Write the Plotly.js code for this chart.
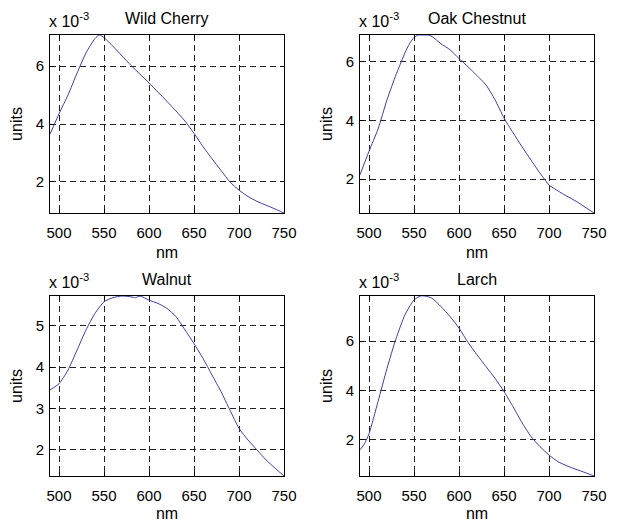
<!DOCTYPE html>
<html>
<head>
<meta charset="utf-8">
<script src="https://cdn.plot.ly/plotly-3.0.1.min.js"></script>
<style>html,body{margin:0;padding:0;background:#fff;}#chart{width:621px;height:522px;}</style>
</head>
<body>
<div id="chart"></div>
<script>
// Wavelength samples (nm) and spectra (units x 10^-3)
const cherryNm = [490,500,510,520,530,540,545,550,560,570,580,590,600,610,620,630,640,650,660,670,680,690,700,710,720,730,740,750];
const cherryVal = [3.65,4.35,5.0,5.75,6.45,6.95,7.07,6.98,6.68,6.35,6.02,5.72,5.42,5.1,4.78,4.45,4.1,3.68,3.22,2.8,2.4,2.0,1.72,1.5,1.33,1.2,1.07,0.93];

const oakNm = [490,500,510,520,530,536,540,545,550,555,560,565,570,580,590,600,610,620,630,640,650,660,670,680,690,695,700,710,720,730,740,750];
const oakVal = [2.15,2.95,3.7,4.7,5.55,6.0,6.3,6.6,6.82,6.9,6.9,6.9,6.85,6.6,6.4,6.1,5.82,5.52,5.2,4.7,4.08,3.58,3.1,2.65,2.2,2.0,1.8,1.6,1.42,1.25,1.05,0.85];

const walnutNm = [490,500,510,520,530,540,550,560,570,580,585,590,600,610,620,630,640,650,660,670,680,690,700,710,720,730,740,750];
const walnutVal = [3.45,3.6,3.93,4.41,4.9,5.3,5.58,5.68,5.72,5.7,5.68,5.72,5.62,5.54,5.42,5.22,4.9,4.57,4.21,3.81,3.41,2.96,2.52,2.24,2.0,1.76,1.56,1.37];

const larchNm = [490,495,500,510,520,530,540,550,557,562,570,580,590,600,610,620,630,640,650,660,670,680,690,700,710,720,730,740,750];
const larchVal = [1.6,1.85,2.25,3.55,4.9,6.1,7.07,7.67,7.83,7.83,7.74,7.4,7.0,6.53,5.95,5.45,4.97,4.5,3.96,3.35,2.7,2.14,1.73,1.39,1.12,0.95,0.81,0.68,0.54];

const titles = ["Wild Cherry","Oak Chestnut","Walnut","Larch"];
const scaleNotes = ["x 10<sup>-3</sup>","x 10<sup>-3</sup>","x 10<sup>-3</sup>","x 10<sup>-3</sup>"];
const xTicks = [500,550,600,650,700,750];
const yTicksList = [[2,4,6],[2,4,6],[2,3,4,5],[2,4,6]];
const xRange = [490,750];
const yRanges = [[0.93,7.07],[0.85,6.9],[1.37,5.72],[0.54,7.83]];
const xLabel = "nm";
const yLabel = "units";

const series = [[cherryNm,cherryVal],[oakNm,oakVal],[walnutNm,walnutVal],[larchNm,larchVal]];

const W = 621, H = 522;
const boxes = [
  {l:50,r:284,t:35,b:213},
  {l:360,r:594,t:35,b:213},
  {l:50,r:284,t:296,b:476},
  {l:360,r:594,t:296,b:476}
];
const FONT = "Liberation Sans, Arial, Helvetica, sans-serif";

const data = [];
const layout = {
  width: W, height: H,
  margin: {l:0,r:0,t:0,b:0},
  paper_bgcolor: "#ffffff",
  plot_bgcolor: "#ffffff",
  showlegend: false,
  font: {family: FONT, size: 15, color: "#000"},
  annotations: []
};

series.forEach((s, i) => {
  const n = i + 1;
  const xa = n === 1 ? "x" : "x" + n;
  const ya = n === 1 ? "y" : "y" + n;
  data.push({
    x: s[0], y: s[1], type: "scatter", mode: "lines",
    xaxis: xa, yaxis: ya,
    line: {color: "#3d3da6", width: 1, shape: "spline", smoothing: 0.6}
  });
  const b = boxes[i];
  const common = {
    showline: true, linecolor: "#000", linewidth: 1, mirror: "ticks",
    ticks: "inside", ticklen: 4, tickcolor: "#000", tickwidth: 1,
    showgrid: true, gridcolor: "#222", gridwidth: 1, griddash: "6px,4px",
    zeroline: false, fixedrange: true,
    tickfont: {family: FONT, size: 15, color: "#000"}
  };
  layout["xaxis" + (n === 1 ? "" : n)] = Object.assign({}, common, {
    domain: [b.l / W, b.r / W],
    anchor: ya,
    range: xRange, tickvals: xTicks, ticktext: xTicks.map(String),
    ticklabelstandoff: 6,
    title: {text: xLabel, font: {family: FONT, size: 16, color: "#000"}, standoff: 6}
  });
  layout["yaxis" + (n === 1 ? "" : n)] = Object.assign({}, common, {
    domain: [1 - b.b / H, 1 - b.t / H],
    anchor: xa,
    range: yRanges[i], tickvals: yTicksList[i], ticktext: yTicksList[i].map(String),
    ticklabelstandoff: 2,
    title: {text: yLabel, font: {family: FONT, size: 16, color: "#000"}, standoff: 9}
  });
  layout.annotations.push({
    text: titles[i], showarrow: false,
    xref: xa + " domain", yref: ya + " domain",
    x: 0.5, y: 1, xanchor: "center", yanchor: "bottom", yshift: 6,
    font: {family: FONT, size: 16, color: "#000"}
  });
  layout.annotations.push({
    text: scaleNotes[i], showarrow: false,
    xref: xa + " domain", yref: ya + " domain",
    x: 0, y: 1, xanchor: "left", yanchor: "bottom", yshift: 3, xshift: -3,
    font: {family: FONT, size: 16, color: "#000"}
  });
});

Plotly.newPlot("chart", data, layout, {staticPlot: true, displayModeBar: false});
</script>
</body>
</html>
